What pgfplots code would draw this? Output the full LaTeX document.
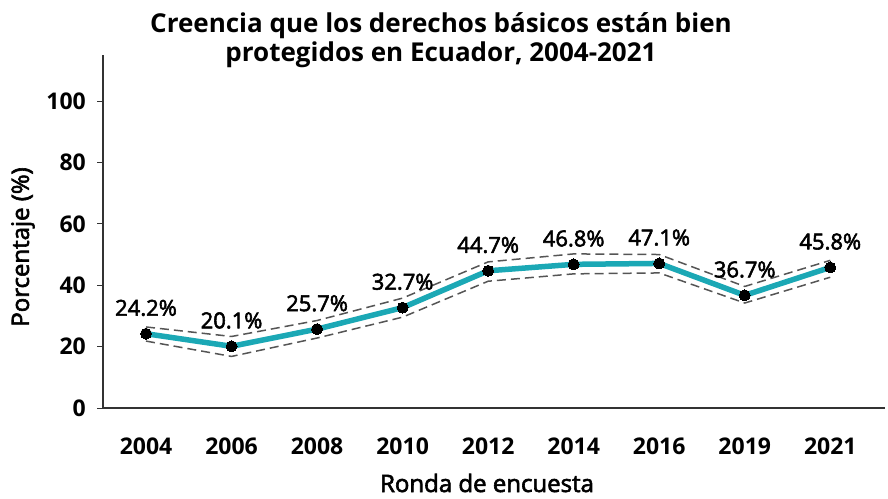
\documentclass[border=0pt]{standalone}
\usepackage{fontspec}
\setmainfont{Open Sans}
\newfontfamily\semib[FakeBold=2.5]{Open Sans}
\usepackage{pgfplots}
\pgfplotsset{compat=1.18}
\definecolor{lineTeal}{HTML}{1BA8B5}
\definecolor{ciGray}{HTML}{555555}
\definecolor{axGray}{HTML}{333333}

% x = round index, y = percentage, lo/hi = dashed bounds
\pgfplotstableread{
x y lo hi lab
0 24.2 21.8 26.4 24.2\%
1 20.1 16.8 23.3 20.1\%
2 25.7 22.8 28.5 25.7\%
3 32.7 29.6 35.8 32.7\%
4 44.7 41.3 47.6 44.7\%
5 46.8 43.7 50.2 46.8\%
6 47.1 44.0 50.0 47.1\%
7 36.7 34.2 39.6 36.7\%
8 45.8 42.6 48.1 45.8\%
}\datatable

\begin{document}
\begin{tikzpicture}
\begin{axis}[
  name=ax,
  scale only axis,
  width=782pt, height=353pt,
  xmin=-0.503, xmax=8.64,
  ymin=0, ymax=115,
  axis x line*=bottom, axis y line*=left,
  axis line style={draw=axGray, line width=1.2pt},
  xtick={0,...,8},
  xticklabels={2004,2006,2008,2010,2012,2014,2016,2019,2021},
  x tick style={draw=none},
  ytick={0,20,40,60,80,100},
  y tick style={draw=axGray, line width=1pt},
  tick align=outside,
  major tick length=6pt,
  /pgf/number format/assume math mode=true,
  tick label style={font=\bfseries\fontsize{23}{26}\selectfont},
  xticklabel style={anchor=base, yshift=-40pt},
  yticklabel style={anchor=east, inner sep=0pt, xshift=-11pt},
  clip=false,
]
\addplot[ciGray, line width=1.5pt, dash pattern=on 9pt off 5pt] table[x=x,y=hi] {\datatable};
\addplot[ciGray, line width=1.5pt, dash pattern=on 9pt off 5pt] table[x=x,y=lo] {\datatable};
\addplot[lineTeal, line width=5.5pt, line join=round,
  mark=*, mark size=5.5pt, mark options={fill=black, draw=black, line width=0pt},
  nodes near coords, point meta=explicit symbolic,
  every node near coord/.append style={font=\semib\fontsize{22}{26}\selectfont, anchor=base, yshift=18pt, text=black}]
  table[x=x,y=y,meta=lab] {\datatable};
\end{axis}
\node[anchor=base, font=\bfseries\fontsize{26}{30}\selectfont] at ([shift={(338pt,375pt)}]ax.south west) {Creencia que los derechos básicos están bien};
\node[anchor=base, font=\bfseries\fontsize{26}{30}\selectfont] at ([shift={(338pt,346pt)}]ax.south west) {protegidos en Ecuador, 2004-2021};
\node[anchor=base, font=\semib\fontsize{24}{28}\selectfont] at ([shift={(384pt,-84pt)}]ax.south west) {Ronda de encuesta};
\node[rotate=90, anchor=center, font=\semib\fontsize{24}{28}\selectfont] at ([shift={(-80pt,161pt)}]ax.south west) {Porcentaje (\%)};
\path[draw=none] ([shift={(-103pt,-90pt)}]ax.south west) rectangle ([shift={(3pt,55pt)}]ax.north east);
\end{tikzpicture}
\end{document}
